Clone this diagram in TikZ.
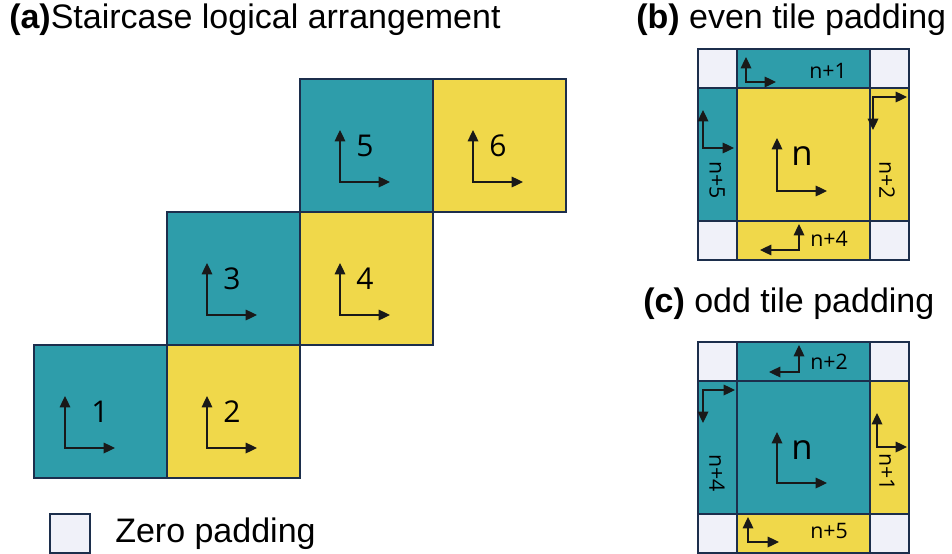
\documentclass[tikz,border=0pt]{standalone}
\usepackage{fontspec}
\setmainfont{Liberation Sans}
\newfontfamily\labfont{Open Sans}
\usetikzlibrary{arrows.meta}
\definecolor{tealc}{HTML}{2E9DAA}
\definecolor{yelc}{HTML}{F0D84A}
\definecolor{padc}{HTML}{F0F1F9}
\definecolor{edgec}{HTML}{1C2E4C}
\tikzset{
  base/.style={draw=edgec, line width=1.5pt, inner sep=0pt, anchor=north west},
  tile/.style={base, minimum width=99.75pt, minimum height=99.75pt},
  hstrip/.style={base, minimum width=99.75pt, minimum height=29.25pt},
  vstrip/.style={base, minimum width=29.25pt, minimum height=99.75pt},
  pad/.style={base, fill=padc, minimum width=29.25pt, minimum height=29.25pt},
  ax/.style={line width=0.9pt, draw=black!90, {Triangle[length=8.5pt,width=8pt]}-{Triangle[length=8.5pt,width=8pt]}},
  num/.style={font=\labfont\fontsize{22.5pt}{26pt}\selectfont, inner sep=0pt},
  small/.style={font=\labfont\fontsize{16pt}{19pt}\selectfont, inner sep=0pt},
  bign/.style={font=\labfont\fontsize{26pt}{30pt}\selectfont, inner sep=0pt},
  title/.style={font=\fontsize{25.5pt}{30pt}\selectfont, inner sep=0pt, anchor=base west},
}
\begin{document}
\begin{tikzpicture}[x=0.75pt, y=-0.75pt]
\useasboundingbox (0,0) rectangle (952,553);
% titles
\node[title] (ta) at (9,28) {\textbf{(a)}Staircase logical arrangement};
\node[title] (tb) at (636,28) {\textbf{(b)} even tile padding};
\node[title] (tc) at (643,312) {\textbf{(c)} odd tile padding};
% staircase tiles
\node[tile, fill=tealc] (t1) at (33,344) {};
\node[tile, fill=yelc] (t2) at (166,344) {};
\node[tile, fill=tealc] (t3) at (166,211) {};
\node[tile, fill=yelc] (t4) at (299,211) {};
\node[tile, fill=tealc] (t5) at (299,78) {};
\node[tile, fill=yelc] (t6) at (432,78) {};
% axes and numbers
\draw[ax] (65,396) |- (115,448);
\node[num] (n1) at (100,412) {1};
\foreach \x/\y/\n in {166/344/2, 166/211/3, 299/211/4, 299/78/5, 432/78/6}{
  \draw[ax] (\x+41,\y+52) |- (\x+91,\y+104);
  \node[num] (n\n) at (\x+66,\y+68) {\n};
}
% legend
\node[pad, minimum width=30pt, minimum height=29.25pt] (leg) at (49,513) {};
\node[title] (legt) at (115,542) {Zero padding};
% ---------- panel (b)
\node[pad] (b11) at (697,48) {};
\node[pad] (b13) at (869,48) {};
\node[pad] (b31) at (697,220) {};
\node[pad] (b33) at (869,220) {};
\node[hstrip, fill=tealc] (btop) at (736,48) {};
\node[hstrip, fill=yelc] (bbot) at (736,220) {};
\node[vstrip, fill=tealc] (bleft) at (697,87) {};
\node[vstrip, fill=yelc] (bright) at (869,87) {};
\node[tile, fill=yelc] (bc) at (736,87) {};
\draw[ax] (746,57) |- (776,82);
\node[small] (bl1) at (828,71) {n+1};
\draw[ax] (907,97) -| (873,130);
\node[small, rotate=-90] (bl2) at (887,180) {n+2};
\draw[ax] (799,224) |- (760,250);
\node[small] (bl4) at (829,239) {n+4};
\draw[ax] (703,110) |- (734,148);
\node[small, rotate=-90] (bl5) at (717,180) {n+5};
\draw[ax] (777,138) |- (827,191);
\node[bign] (bn) at (802,156) {n};
% ---------- panel (c)
\node[pad] (c11) at (697,341) {};
\node[pad] (c13) at (869,341) {};
\node[pad] (c31) at (697,513) {};
\node[pad] (c33) at (869,513) {};
\node[hstrip, fill=tealc] (ctop) at (736,341) {};
\node[hstrip, fill=yelc] (cbot) at (736,513) {};
\node[vstrip, fill=tealc] (cleft) at (697,380) {};
\node[vstrip, fill=yelc] (cright) at (869,380) {};
\node[tile, fill=tealc] (cc) at (736,380) {};
\draw[ax] (799,345) |- (769,372);
\node[small] (cl2) at (829,362) {n+2};
\draw[ax] (735,390) -| (703,423);
\node[small, rotate=-90] (cl4) at (717,473) {n+4};
\draw[ax] (877,413) |- (907,447);
\node[small, rotate=-90] (cl1) at (887,472) {n+1};
\draw[ax] (748,517) |- (779,542);
\node[small] (cl5) at (829,531) {n+5};
\draw[ax] (777,432) |- (827,483);
\node[bign] (cn) at (802,450) {n};
\end{tikzpicture}
\end{document}
